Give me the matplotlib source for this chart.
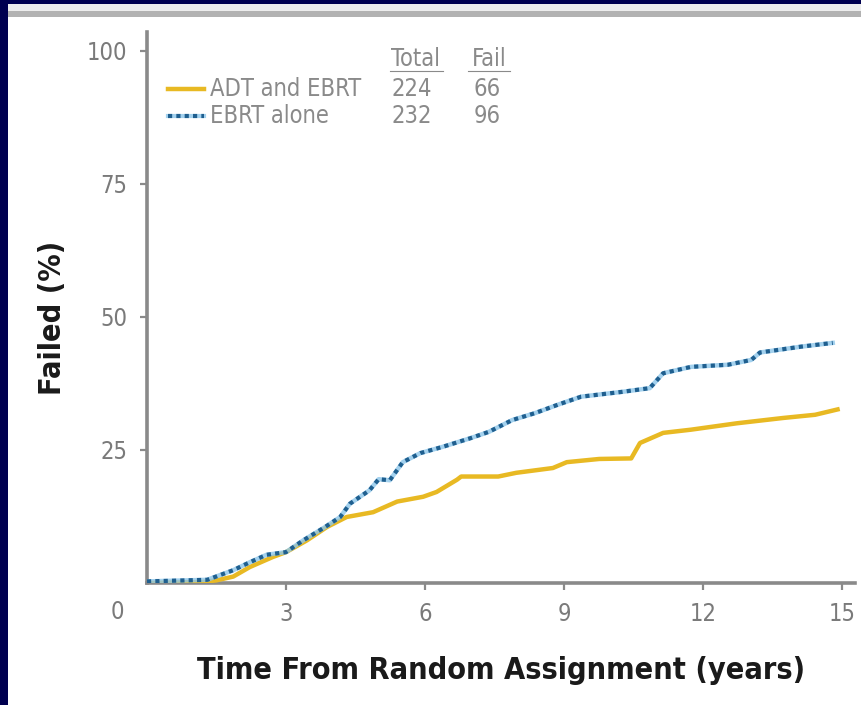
import matplotlib.pyplot as plt
from matplotlib import font_manager
from matplotlib.patches import Rectangle
from matplotlib.lines import Line2D

# cumulative failure
t_adt = [0, 1.2, 1.5, 1.86, 2.22, 2.72, 3.0, 3.45, 3.88, 4.31, 4.88, 5.4, 5.96, 6.25,
         6.69, 6.78, 7.58, 7.97, 8.76, 9.06, 9.76, 10.45, 10.64, 11.14, 11.74, 12.73,
         13.73, 14.42, 14.95]
v_adt = [0, 0.2, 0.5, 1.2, 3.0, 4.9, 5.8, 8.0, 10.5, 12.4, 13.3, 15.3, 16.2, 17.1,
         19.4, 20.0, 20.0, 20.7, 21.6, 22.7, 23.3, 23.4, 26.3, 28.2, 28.8, 30.0,
         31.0, 31.6, 32.7]

t_ebrt = [0, 1.3, 1.58, 1.86, 2.22, 2.58, 3.0, 3.37, 3.84, 4.17, 4.38, 4.8, 5.0, 5.24,
          5.52, 5.9, 6.39, 6.98, 7.38, 7.88, 8.37, 8.87, 9.37, 10.25, 10.85, 11.14,
          11.74, 12.54, 13.04, 13.23, 14.12, 14.8]
v_ebrt = [0.3, 0.6, 1.5, 2.4, 3.9, 5.3, 5.8, 8.0, 10.5, 12.4, 14.9, 17.4, 19.5, 19.3,
          22.7, 24.4, 25.6, 27.2, 28.4, 30.6, 31.9, 33.5, 35.0, 35.9, 36.6, 39.4,
          40.6, 41.0, 41.9, 43.3, 44.4, 45.1]

groups = ["ADT and EBRT", "EBRT alone"]
totals = [224, 232]
fails = [66, 96]
xticks = [3, 6, 9, 12, 15]
yticks = [25, 50, 75, 100]

W, H = 862, 705
fig = plt.figure(figsize=(W / 100, H / 100), dpi=100)
fig.patch.set_facecolor("#000050")


def px(x, y):
    return x / W, 1 - y / H


# condensed DejaVu if the system has it, otherwise plain and a bit smaller
has_cond = any(f.name == "DejaVu Sans" and f.stretch == "condensed"
               for f in font_manager.fontManager.ttflist)
stretch = "condensed" if has_cond else "normal"
title_size = 22 if has_cond else 19

# white slide panel with grey bar on top
fig.add_artist(Rectangle(px(8, H), (W - 8) / W, (H - 4) / H, transform=fig.transFigure,
                         facecolor="white", edgecolor="none", zorder=-10))
fig.add_artist(Rectangle(px(8, 11), (W - 8) / W, 7 / H, transform=fig.transFigure,
                         facecolor="#ededed", edgecolor="none", zorder=-9))
fig.add_artist(Rectangle(px(8, 17), (W - 8) / W, 6 / H, transform=fig.transFigure,
                         facecolor="#b2b2b2", edgecolor="none", zorder=-9))

ax = fig.add_axes([147 / W, (H - 583) / H, (855 - 147) / W, (583 - 32) / H])
ax.set_facecolor("none")

gold = "#e8b923"
blue = "#1f5f8f"
ax.plot(t_adt, v_adt, color=gold, lw=3.2, solid_capstyle="butt", zorder=3)
ax.plot(t_ebrt, v_ebrt, color="#8cc6ea", lw=3.2, alpha=0.8, zorder=4)
ax.plot(t_ebrt, v_ebrt, color=blue, lw=3.0, linestyle=(0, (1.0, 1.0)), zorder=5)

ax.set_xlim(0, 15.28)
ax.set_ylim(0, 103.5)
ax.set_xticks(xticks)
ax.set_yticks(yticks)

grey = "#8a8a8a"
for side in ["top", "right"]:
    ax.spines[side].set_visible(False)
for side in ["left", "bottom"]:
    ax.spines[side].set_color(grey)
    ax.spines[side].set_linewidth(2.6)

ax.tick_params(axis="both", colors=grey, width=1.6, length=5, labelsize=17,
               labelcolor="#7a7a7a", pad=9)
for lab in ax.get_xticklabels() + ax.get_yticklabels():
    lab.set_fontstretch(stretch)
ax.text(-0.63, -5.4, "0", color="#7a7a7a", fontsize=17, fontstretch=stretch,
        ha="center", va="center")

ax.set_xlabel("Time From Random Assignment (years)", fontsize=title_size,
              fontstretch=stretch, fontweight="bold", color="#1a1a1a", labelpad=21)
ax.set_ylabel("Failed (%)", fontsize=title_size, fontstretch=stretch,
              fontweight="bold", color="#1a1a1a")
ax.yaxis.set_label_coords(-0.113, 0.481)

# legend table
leg_col = "#8a8a8a"
leg_size = 17
fig.text(*px(416, 59), "Total", fontsize=leg_size, fontstretch=stretch, color=leg_col,
         ha="center", va="center")
fig.text(*px(489, 59), "Fail", fontsize=leg_size, fontstretch=stretch, color=leg_col,
         ha="center", va="center")
for x0, x1 in [(390, 443), (468, 510)]:
    fig.add_artist(Line2D([x0 / W, x1 / W], [1 - 71 / H, 1 - 71 / H], color=leg_col,
                          lw=0.8, transform=fig.transFigure))

row_y = [89, 116]
handles = [dict(color=gold, lw=3.2, ls="-"), dict(color=blue, lw=3.0, ls=(0, (1.0, 1.0)))]
for i, name in enumerate(groups):
    y = row_y[i]
    if i == 1:
        fig.add_artist(Line2D([168 / W, 204 / W], [1 - y / H] * 2, color="#8cc6ea",
                              lw=3.0, alpha=0.8, transform=fig.transFigure))
    h = handles[i]
    fig.add_artist(Line2D([168 / W, 204 / W], [1 - y / H] * 2, color=h["color"],
                          lw=h["lw"], ls=h["ls"], transform=fig.transFigure))
    fig.text(*px(210, y), name, fontsize=leg_size, fontstretch=stretch, color=leg_col,
             ha="left", va="center")
    fig.text(*px(412, y), str(totals[i]), fontsize=leg_size, fontstretch=stretch,
             color=leg_col, ha="center", va="center")
    fig.text(*px(487, y), str(fails[i]), fontsize=leg_size, fontstretch=stretch,
             color=leg_col, ha="center", va="center")

fig.savefig("out.png", dpi=100, facecolor=fig.get_facecolor())
